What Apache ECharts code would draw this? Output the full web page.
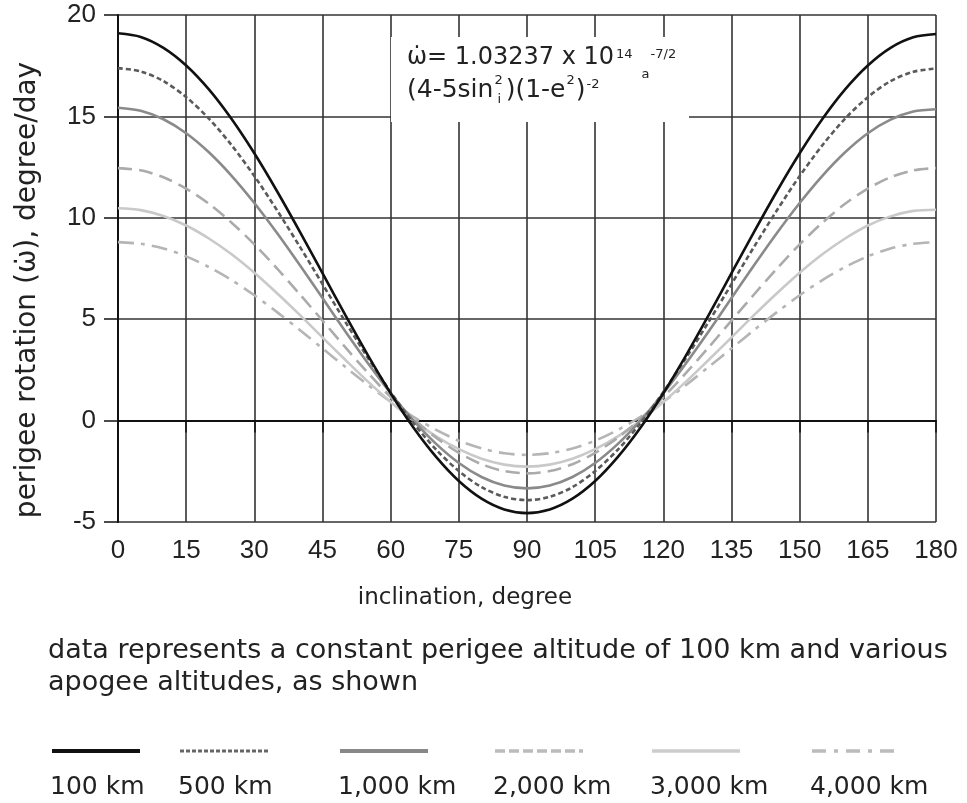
<!DOCTYPE html>
<html>
<head>
<meta charset="utf-8">
<script src="https://cdn.jsdelivr.net/npm/echarts@6/dist/echarts.min.js"></script>
<style>
html,body{margin:0;padding:0;background:#fff;}
#chart{width:967px;height:803px;}
</style>
</head>
<body>
<div id="chart"></div>
<script>
// ---- data ----
const inclination = [0,5,10,15,20,25,30,35,40,45,50,55,60,65,70,75,80,85,90,95,100,105,110,115,120,125,130,135,140,145,150,155,160,165,170,175,180];
const xTicks = [0,15,30,45,60,75,90,105,120,135,150,165,180];
const yTicks = [-5,0,5,10,15,20];
const seriesNames = ['100 km','500 km','1,000 km','2,000 km','3,000 km','4,000 km'];
const alt100  = [19.10,18.92,18.38,17.51,16.33,14.87,13.18,11.31,9.32,7.27,5.21,3.22,1.35,-0.34,-1.79,-2.98,-3.85,-4.38,-4.56,-4.38,-3.85,-2.98,-1.79,-0.34,1.35,3.22,5.21,7.27,9.32,11.31,13.18,14.87,16.33,17.51,18.38,18.90,19.06];
const alt500  = [17.38,17.22,16.74,15.95,14.89,13.58,12.06,10.37,8.58,6.73,4.88,3.09,1.41,-0.12,-1.43,-2.49,-3.28,-3.76,-3.92,-3.76,-3.28,-2.49,-1.43,-0.12,1.41,3.09,4.88,6.73,8.58,10.37,12.06,13.58,14.89,15.95,16.74,17.20,17.36];
const alt1000 = [15.43,15.28,14.86,14.17,13.23,12.07,10.73,9.25,7.67,6.04,4.41,2.83,1.35,0.01,-1.15,-2.09,-2.78,-3.20,-3.34,-3.20,-2.78,-2.09,-1.15,0.01,1.35,2.83,4.41,6.04,7.67,9.25,10.73,12.07,13.23,14.17,14.84,15.24,15.35];
const alt2000 = [12.45,12.34,12.00,11.44,10.69,9.76,8.69,7.50,6.23,4.93,3.62,2.35,1.16,0.09,-0.84,-1.59,-2.15,-2.49,-2.60,-2.49,-2.15,-1.59,-0.84,0.09,1.16,2.35,3.62,4.93,6.23,7.50,8.69,9.76,10.69,11.44,12.00,12.34,12.45];
const alt3000 = [10.47,10.38,10.09,9.62,8.98,8.20,7.29,6.28,5.21,4.10,3.00,1.92,0.92,0.01,-0.78,-1.41,-1.88,-2.17,-2.27,-2.17,-1.88,-1.41,-0.78,0.01,0.92,1.92,3.00,4.10,5.21,6.28,7.29,8.20,8.98,9.62,10.07,10.34,10.40];
const alt4000 = [8.80,8.72,8.49,8.10,7.57,6.93,6.18,5.35,4.47,3.56,2.65,1.76,0.93,0.19,-0.46,-0.99,-1.37,-1.61,-1.69,-1.61,-1.37,-0.99,-0.46,0.19,0.93,1.76,2.65,3.56,4.47,5.35,6.18,6.93,7.57,8.10,8.49,8.72,8.80];
const allSeries = [alt100, alt500, alt1000, alt2000, alt3000, alt4000];

// ---- styles ----
const lineStyles = [
  {color:'#111111', width:2.6, type:'solid'},
  {color:'#5a5a5a', width:2.6, type:[5,3]},
  {color:'#8a8a8a', width:2.6, type:'solid'},
  {color:'#ababab', width:2.6, type:[14,7]},
  {color:'#c9c9c9', width:2.6, type:'solid'},
  {color:'#b5b5b5', width:2.6, type:[16,7,4,7]}
];
const legendStyles = [
  {stroke:'#111111', lineWidth:4, lineDash:null},
  {stroke:'#666666', lineWidth:3, lineDash:[4,2]},
  {stroke:'#888888', lineWidth:4, lineDash:null},
  {stroke:'#bbbbbb', lineWidth:3.5, lineDash:[10,4]},
  {stroke:'#cccccc', lineWidth:3.5, lineDash:null},
  {stroke:'#bbbbbb', lineWidth:3.5, lineDash:[14,8,4,8]}
];
const legendX = [52, 180, 340, 495, 652, 812];

const chart = echarts.init(document.getElementById('chart'), null, {renderer:'canvas'});

const gridColor = '#333';
const TXT = '#222';
const DV = 'DejaVu Sans';
const LS = 'Liberation Sans';

const mctx = document.createElement('canvas').getContext('2d');
function w(s, size){ mctx.font = size + 'px "' + DV + '"'; return mctx.measureText(s).width; }

const graphics = [];
graphics.push({type:'rect', shape:{x:391, y:37, width:298, height:85}, style:{fill:'#fff'}, z:10});
function txt(s, x, y, size, family, align){
  return {type:'text', x:x, y:y, z:11, style:{text:s, font: size+'px "'+family+'"', fill:TXT,
    textAlign: align||'left', textVerticalAlign:'middle', align: align||'left', verticalAlign:'middle'}};
}
// formula
(function(){
  const B = 24, S = 13;
  let x = 407;
  const a = '\u03C9\u0307= 1.03237 x 10';
  graphics.push(txt(a, x, 58, B, DV)); x += w(a, B) + 2;
  graphics.push(txt('14', x, 55, S, DV)); x += w('14', S) + 9;
  graphics.push(txt('a', x, 75, S, DV)); x += w('a', S) + 1;
  graphics.push(txt('-7/2', x, 55, S, DV));
  const B2 = 25;
  x = 407;
  graphics.push(txt('(4-5sin', x, 90, B2, DV)); x += w('(4-5sin', B2) + 1;
  graphics.push(txt('2', x, 81, S, DV));
  graphics.push(txt('i', x + 3, 100, S, DV)); x += w('2', S) + 3;
  graphics.push(txt(')(1-e', x, 90, B2, DV)); x += w(')(1-e', B2) + 1;
  graphics.push(txt('2', x, 81, S, DV)); x += w('2', S) + 1;
  graphics.push(txt(')', x, 90, B2, DV)); x += w(')', B2) + 1;
  graphics.push(txt('-2', x, 85, S, DV));
})();
// axis names
graphics.push({type:'text', x:28, y:290, rotation:Math.PI/2, z:11,
  style:{text:'perigee rotation (\u03C9\u0307), degree/day', font:'28px "'+DV+'"', fill:TXT,
  textAlign:'center', textVerticalAlign:'middle', align:'center', verticalAlign:'middle'}});
graphics.push(txt('inclination, degree', 465, 598, 23, DV, 'center'));
// footnote
graphics.push(txt('data represents a constant perigee altitude of 100 km and various', 48, 651, 27, DV));
graphics.push(txt('apogee altitudes, as shown', 48, 683, 27, DV));
// legend
seriesNames.forEach(function(n, i){
  const ls = legendStyles[i];
  graphics.push({type:'line', z:11, shape:{x1:legendX[i], y1:751, x2:legendX[i]+88, y2:751},
    style:{stroke:ls.stroke, lineWidth:ls.lineWidth, lineDash:ls.lineDash}});
  graphics.push(txt(n, legendX[i]-2, 787, 25, DV));
});

const option = {
  backgroundColor:'#fff',
  animation:false,
  grid:{left:118, right:31, top:15, bottom:281, containLabel:false},
  xAxis:{
    type:'value', min:0, max:180, interval:15,
    axisLine:{show:true, lineStyle:{color:'#111', width:2}},
    axisTick:{show:true, length:12, lineStyle:{color:'#111', width:1.5}},
    axisLabel:{color:TXT, fontSize:26, fontFamily:LS, margin:16,
      formatter:function(v){ return xTicks.indexOf(v) >= 0 ? String(v) : ''; }},
    splitLine:{show:true, lineStyle:{color:gridColor, width:1.6}}
  },
  yAxis:{
    type:'value', min:-5, max:20, interval:5,
    axisLine:{show:true, lineStyle:{color:'#111', width:2}},
    axisTick:{show:true, length:14, lineStyle:{color:'#111', width:1.5}},
    axisLabel:{color:TXT, fontSize:26, fontFamily:LS, margin:22,
      formatter:function(v){ return yTicks.indexOf(v) >= 0 ? String(v) : ''; }},
    splitLine:{show:true, lineStyle:{color:gridColor, width:1.6}}
  },
  series: allSeries.map(function(arr, i){
    return {
      name: seriesNames[i], type:'line', smooth:0.3, symbol:'none',
      data: inclination.map(function(x, k){ return [x, arr[k]]; }),
      lineStyle: lineStyles[i], z: 5 - i
    };
  }),
  graphic: graphics
};
chart.setOption(option);
</script>
</body>
</html>
